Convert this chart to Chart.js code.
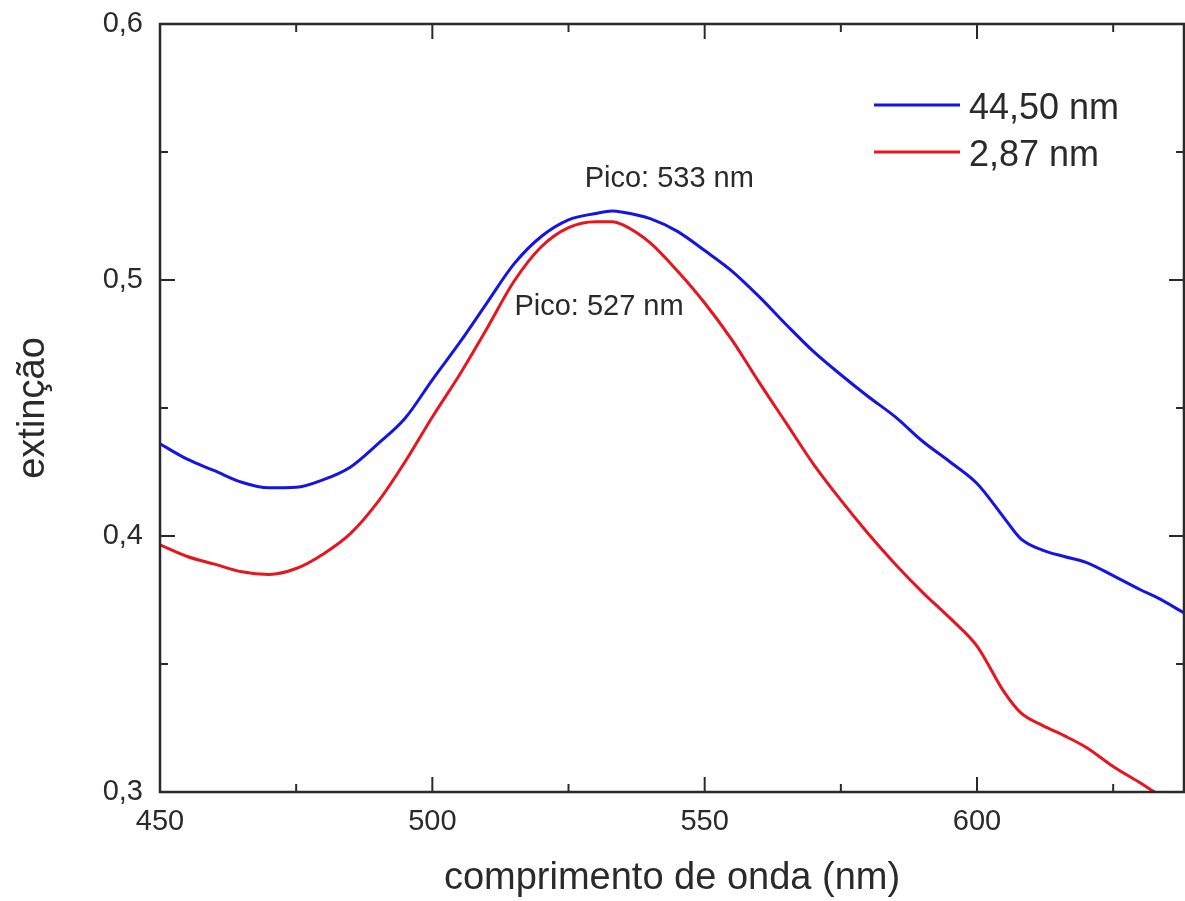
<!DOCTYPE html>
<html>
<head>
<meta charset="utf-8">
<script src="https://cdn.jsdelivr.net/npm/chart.js@4.4.1/dist/chart.umd.min.js"></script>
<style>
  html, body { margin: 0; padding: 0; background: #fff; }
</style>
</head>
<body>
<canvas id="chart" width="1185" height="901"></canvas>
<script>
const wavelengths = [450, 455, 460, 465, 470, 475, 480, 485, 490, 495, 500, 505, 510, 515, 520, 525, 530, 533, 535, 540, 545, 550, 555, 560, 565, 570, 575, 580, 585, 590, 595, 600, 605, 608, 612, 616, 620, 625, 630, 633, 638];

const blueValues = [0.436, 0.430, 0.4255, 0.421, 0.4188, 0.419, 0.422, 0.427, 0.436, 0.446, 0.461, 0.4755, 0.491, 0.5063, 0.517, 0.5235, 0.526, 0.527, 0.5265, 0.524, 0.519, 0.5115, 0.5035, 0.4935, 0.4825, 0.472, 0.463, 0.4545, 0.4465, 0.437, 0.429, 0.4205, 0.407, 0.399, 0.3945, 0.392, 0.3897, 0.3845, 0.379, 0.376, 0.370];

const redValues = [0.3965, 0.392, 0.389, 0.386, 0.385, 0.3873, 0.393, 0.401, 0.4133, 0.429, 0.4465, 0.463, 0.481, 0.4995, 0.513, 0.5205, 0.5228, 0.5228, 0.5215, 0.5145, 0.5035, 0.491, 0.4766, 0.460, 0.444, 0.428, 0.414, 0.401, 0.389, 0.378, 0.368, 0.357, 0.339, 0.331, 0.326, 0.322, 0.3175, 0.310, 0.3035, 0.2995, 0.295];

const seriesLabels = ["44,50 nm", "2,87 nm"];
const seriesColors = ["#1414e6", "#e8141e"];

const xTicks = [450, 500, 550, 600];
const xMinorTicks = [475, 525, 575, 625];
const yTicks = [0.3, 0.4, 0.5, 0.6];
const yMinorTicks = [0.35, 0.45, 0.55];

const peakNotes = [
  { text: "Pico: 533 nm", x: 543.5, y: 0.5395 },
  { text: "Pico: 527 nm", x: 530.6, y: 0.4895 },
];

const FONT = "'Liberation Sans', Arial, sans-serif";
const INK = "#2a2a2a";

const toPoints = (vals) => vals.map((v, i) => ({ x: wavelengths[i], y: v }));

// moldura, ticks para dentro, legenda e anotações
const decorations = {
  id: "decorations",
  afterDatasetsDraw(chart) {
    const { ctx, chartArea: a, scales: { x, y } } = chart;
    ctx.save();
    ctx.strokeStyle = INK;
    ctx.lineWidth = 2.5;
    ctx.strokeRect(a.left, a.top, a.right - a.left, a.bottom - a.top);

    ctx.lineWidth = 2;
    const seg = (x1, y1, x2, y2) => {
      ctx.beginPath();
      ctx.moveTo(x1, y1);
      ctx.lineTo(x2, y2);
      ctx.stroke();
    };
    const xMarks = (vals, len) => vals.forEach((v) => {
      const px = x.getPixelForValue(v);
      seg(px, a.bottom, px, a.bottom - len);
      seg(px, a.top, px, a.top + len);
    });
    const yMarks = (vals, len) => vals.forEach((v) => {
      const py = y.getPixelForValue(v);
      seg(a.left, py, a.left + len, py);
      seg(a.right, py, a.right - len, py);
    });
    xMarks(xTicks, 15);
    xMarks(xMinorTicks, 8);
    yMarks(yTicks, 15);
    yMarks(yMinorTicks, 8);

    // legenda
    ctx.lineWidth = 3;
    ctx.font = "36px " + FONT;
    ctx.textBaseline = "middle";
    ctx.textAlign = "left";
    chart.data.datasets.forEach((ds, i) => {
      const ly = 105 + i * 47;
      ctx.strokeStyle = ds.borderColor;
      seg(874, ly, 960, ly);
      ctx.fillStyle = INK;
      ctx.fillText(ds.label, 969, ly + 4);
    });

    // anotações dos picos
    ctx.font = "29px " + FONT;
    ctx.textAlign = "center";
    peakNotes.forEach((n) => {
      ctx.fillText(n.text, x.getPixelForValue(n.x), y.getPixelForValue(n.y));
    });
    ctx.restore();
  },
};

new Chart(document.getElementById("chart"), {
  type: "line",
  data: {
    datasets: [
      { label: seriesLabels[0], data: toPoints(blueValues), borderColor: seriesColors[0] },
      { label: seriesLabels[1], data: toPoints(redValues), borderColor: seriesColors[1] },
    ],
  },
  options: {
    responsive: false,
    animation: false,
    layout: { padding: { top: 24, right: 1, bottom: 0, left: 0 } },
    elements: {
      point: { radius: 0 },
      line: { borderWidth: 3, cubicInterpolationMode: "monotone" },
    },
    plugins: { legend: { display: false }, tooltip: { enabled: false } },
    scales: {
      x: {
        type: "linear",
        min: 450,
        max: 638,
        afterBuildTicks: (s) => { s.ticks = xTicks.map((v) => ({ value: v })); },
        afterFit: (s) => { s.height = 109; s.paddingLeft = 0; s.paddingRight = 0; },
        grid: { display: false, drawTicks: false },
        border: { display: false },
        ticks: { color: INK, font: { family: FONT, size: 29 }, padding: 13, maxRotation: 0, autoSkip: false },
        title: {
          display: true,
          text: "comprimento de onda (nm)",
          color: INK,
          font: { family: FONT, size: 38 },
          padding: { top: 0, bottom: 0 },
        },
      },
      y: {
        min: 0.3,
        max: 0.6,
        afterBuildTicks: (s) => { s.ticks = yTicks.map((v) => ({ value: v })); },
        afterFit: (s) => { s.width = 160; s.paddingTop = 0; s.paddingBottom = 0; },
        grid: { display: false, drawTicks: false },
        border: { display: false },
        ticks: {
          color: INK,
          font: { family: FONT, size: 29 },
          padding: 17,
          callback: (v) => v.toFixed(1).replace(".", ","),
        },
        title: {
          display: true,
          text: "extinção",
          color: INK,
          font: { family: FONT, size: 38 },
          padding: { top: 11, bottom: 0 },
        },
      },
    },
  },
  plugins: [decorations],
});
</script>
</body>
</html>
